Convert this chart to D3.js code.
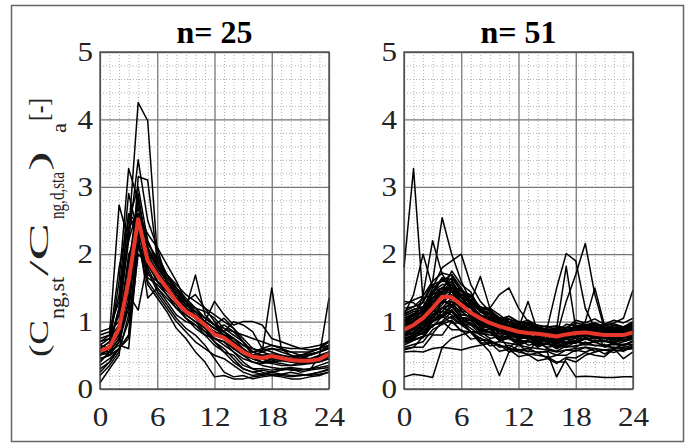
<!DOCTYPE html>
<html>
<head>
<meta charset="utf-8">
<script src="https://cdn.jsdelivr.net/npm/d3@7"></script>
<style>
  body { margin: 0; background: #fff; }
  svg { display: block; }
  .domain { display: none; }
</style>
</head>
<body>
<div id="chart"></div>
<script>
// hours of the day (x values)
var hours = d3.range(0, 25);
var xTicks = [0, 6, 12, 18, 24];
var yTicks = [0, 1, 2, 3, 4, 5];
var titles = ["n= 25", "n= 51"];
var serif = "'Liberation Serif', 'Times New Roman', serif";

// panel 1 : 25 single profiles
var left_lines = [
  [0.60,0.70,1.20,2.30,4.25,3.98,2.00,1.70,1.50,1.30,1.10,1.00,0.90,0.80,0.70,0.55,0.45,0.40,0.42,0.45,0.40,0.38,0.40,0.45,0.55],
  [0.50,0.65,1.60,3.27,2.80,2.10,1.80,1.60,1.40,1.20,1.10,0.95,0.85,0.75,0.60,0.50,0.40,0.38,0.40,0.38,0.35,0.36,0.38,0.40,0.45],
  [0.70,0.80,2.73,2.20,3.40,2.50,2.10,1.85,1.60,1.30,1.20,1.05,0.95,0.85,0.70,0.60,0.50,0.50,0.52,0.50,0.48,0.50,0.52,0.55,0.62],
  [0.45,0.50,0.70,1.20,3.15,3.10,1.90,1.70,1.45,1.25,1.15,1.00,0.90,0.95,0.85,0.70,0.50,0.45,0.48,0.45,0.42,0.40,0.42,0.45,0.50],
  [0.30,0.40,0.60,0.80,2.40,1.80,1.50,1.35,1.20,1.10,1.00,0.90,0.70,0.60,0.45,0.30,0.25,0.22,0.25,0.28,0.30,0.28,0.30,0.32,0.35],
  [0.85,0.90,1.30,2.60,2.20,1.70,1.60,1.50,1.35,1.20,1.10,1.00,0.90,0.85,0.75,0.65,0.60,0.55,0.60,0.58,0.55,0.55,0.55,0.60,0.70],
  [0.09,0.30,0.50,1.80,2.90,2.00,1.75,1.55,1.30,1.15,1.05,0.90,0.75,0.70,0.55,0.40,0.30,0.25,0.20,0.18,0.15,0.15,0.18,0.20,0.25],
  [0.55,0.60,0.85,1.40,1.17,1.90,1.75,1.55,1.35,1.20,1.69,1.10,0.95,0.80,0.70,0.60,0.45,0.40,0.45,0.42,0.40,0.38,0.40,0.42,0.48],
  [0.60,0.55,0.75,1.50,2.60,2.30,2.10,1.60,1.40,1.25,1.20,1.15,1.05,0.90,0.80,0.70,0.55,0.50,0.50,0.48,0.45,0.45,0.50,0.55,0.60],
  [0.40,0.55,0.90,2.00,2.30,1.35,1.50,1.30,1.10,1.00,0.95,0.85,0.70,0.55,0.40,0.30,0.25,0.28,0.25,0.22,0.20,0.20,0.22,0.25,0.28],
  [0.65,0.75,1.10,2.20,2.70,1.90,1.60,1.45,1.30,1.20,1.05,0.95,0.85,0.80,0.75,0.60,0.50,0.55,1.50,0.60,0.50,0.45,0.45,0.50,0.55],
  [0.50,0.55,0.65,0.60,2.10,2.00,1.85,1.70,1.50,1.35,1.20,1.05,0.95,0.90,0.85,0.80,0.75,0.70,0.65,0.62,0.60,0.60,0.62,0.65,0.70],
  [0.20,0.35,0.55,1.10,2.50,1.60,1.40,1.20,1.00,0.85,0.70,0.60,0.50,0.45,0.35,0.25,0.20,0.22,0.25,0.28,0.30,0.25,0.28,0.50,1.35],
  [0.75,0.80,1.40,2.90,2.30,1.95,1.70,1.50,1.30,1.10,1.00,0.85,0.75,0.70,0.60,0.55,0.50,0.48,0.45,0.48,0.45,0.42,0.40,0.42,0.45],
  [0.55,0.65,0.80,1.70,2.80,2.10,1.85,1.60,1.40,1.25,1.15,1.05,0.95,0.85,1.00,0.95,0.85,0.60,0.55,0.50,0.45,0.48,0.50,0.55,0.60],
  [0.35,0.45,0.60,0.75,2.20,1.65,1.55,1.40,1.25,1.05,0.95,0.80,0.65,0.55,0.50,0.35,0.30,0.30,0.28,0.30,0.32,0.30,0.28,0.30,0.32],
  [0.80,0.85,1.00,2.40,2.60,2.20,1.90,1.70,1.55,1.40,1.30,1.20,1.10,1.00,0.90,0.70,0.55,0.60,0.65,0.60,0.55,0.50,0.52,0.55,0.65],
  [0.45,0.50,0.70,1.30,2.35,1.75,1.45,1.25,1.05,0.90,0.80,0.65,0.45,0.25,0.18,0.20,0.15,0.18,0.20,0.22,0.25,0.22,0.20,0.22,0.25],
  [0.60,0.70,1.80,2.50,3.00,2.20,1.85,1.65,1.45,1.25,1.10,1.00,1.30,1.10,0.95,1.00,1.00,0.95,0.75,0.70,0.65,0.60,0.58,0.60,0.65],
  [0.25,0.40,0.60,1.00,2.15,1.55,1.35,1.15,0.90,0.75,0.55,0.40,0.18,0.20,0.15,0.15,0.18,0.20,0.22,0.20,0.18,0.20,0.22,0.25,0.30],
  [0.70,0.75,0.95,1.90,2.60,1.85,1.60,1.45,1.30,1.15,1.05,0.90,0.80,0.75,0.60,0.50,0.45,0.45,0.40,0.42,0.45,0.50,0.55,0.60,0.72],
  [0.50,0.60,1.20,2.60,2.45,2.05,1.80,1.60,1.45,1.30,1.40,1.20,1.00,0.85,0.70,0.55,0.45,0.40,0.38,0.35,0.35,0.38,0.40,0.45,0.50],
  [0.65,0.60,0.80,1.50,2.30,1.95,1.70,1.55,1.35,1.20,1.10,1.00,0.90,0.85,0.75,0.65,0.55,0.58,0.60,0.55,0.50,0.48,0.45,0.48,0.55],
  [0.55,0.50,0.60,0.80,2.00,1.85,1.60,1.40,1.20,1.05,0.90,0.80,0.75,0.65,0.55,0.45,0.40,0.35,0.32,0.30,0.28,0.28,0.30,0.35,0.40],
  [0.40,0.55,0.75,1.30,2.55,2.15,1.95,1.70,1.50,1.30,1.15,1.05,0.95,1.05,0.90,0.75,0.60,0.55,0.50,0.45,0.42,0.40,0.42,0.45,0.50]
];
var left_mean = [0.56,0.62,0.90,1.60,2.52,1.90,1.69,1.50,1.30,1.15,1.07,0.95,0.81,0.76,0.65,0.55,0.48,0.46,0.49,0.46,0.43,0.42,0.42,0.44,0.52];

// panel 2 : 51 single profiles
var right_lines = [
  [1.80,3.27,1.30,1.10,1.20,1.15,1.05,0.95,0.90,0.85,0.82,0.80,0.78,0.75,0.72,0.70,0.72,0.75,0.78,0.80,0.78,0.76,0.75,0.76,0.80],
  [1.00,1.10,1.30,1.60,2.54,2.00,1.60,1.30,1.15,1.05,1.00,0.95,0.90,0.88,0.85,0.82,0.80,0.85,0.88,0.90,0.88,0.85,0.85,0.86,0.90],
  [0.90,1.00,1.40,2.20,1.70,1.50,1.35,1.20,1.10,1.00,0.95,0.90,0.88,0.85,0.82,0.80,0.78,0.80,0.82,0.85,0.82,0.80,0.78,0.80,0.82],
  [0.18,0.22,0.20,0.17,0.62,0.75,0.80,0.85,0.82,0.80,0.78,0.75,0.72,0.70,0.68,0.66,0.65,0.62,0.64,0.66,0.65,0.63,0.62,0.60,0.62],
  [0.55,0.56,0.55,0.60,0.62,0.60,0.58,0.62,0.65,0.68,0.70,0.68,0.65,0.62,0.60,0.58,0.55,0.58,0.60,0.62,0.60,0.58,0.57,0.58,0.60],
  [0.80,0.85,0.95,1.10,1.20,1.15,1.00,0.85,0.70,0.55,0.20,0.55,0.65,0.70,0.72,0.70,0.68,0.70,0.72,0.74,0.72,0.70,0.70,0.72,0.75],
  [0.95,1.00,1.10,1.25,1.40,1.35,1.25,1.15,1.05,1.00,0.95,0.92,0.90,0.88,0.86,0.90,1.50,2.01,1.90,1.20,0.90,0.85,0.84,0.86,0.90],
  [0.85,0.90,1.00,1.15,1.30,1.30,1.20,1.10,1.00,0.95,0.90,0.88,0.85,0.82,0.80,0.78,0.80,1.30,1.70,2.16,1.40,0.90,0.88,0.88,0.92],
  [0.75,0.80,0.90,1.05,1.20,1.25,1.15,1.05,0.95,0.90,0.85,0.82,0.80,0.78,0.76,0.75,0.90,1.82,0.90,0.85,0.82,0.80,0.78,0.80,0.82],
  [1.05,1.10,1.20,1.35,1.50,1.45,1.35,1.20,1.10,1.05,1.00,0.95,0.92,0.90,0.88,0.85,0.85,0.88,0.90,1.00,1.50,0.95,0.90,0.90,0.95],
  [0.90,0.95,1.05,1.20,1.35,1.40,1.30,1.20,1.10,1.02,0.98,0.95,0.92,0.90,0.88,0.85,0.85,0.88,0.92,0.95,0.95,0.95,0.98,1.05,1.47],
  [0.70,0.75,0.85,1.00,1.10,1.05,0.95,0.85,0.75,0.70,0.65,0.60,0.55,0.52,0.50,0.48,0.40,0.40,0.18,0.19,0.18,0.17,0.17,0.18,0.18],
  [0.75,0.80,0.90,1.00,1.15,1.10,1.00,0.90,0.80,0.72,0.65,0.60,0.58,0.56,0.55,0.55,0.18,0.45,0.40,0.50,0.55,0.58,0.60,0.62,0.65],
  [1.00,1.05,1.15,1.30,1.45,1.50,1.40,1.30,1.67,1.20,1.10,1.00,0.95,0.90,0.88,0.85,0.82,0.85,0.88,0.90,0.88,0.86,0.85,0.86,0.88],
  [0.95,1.00,1.10,1.25,1.45,1.55,1.45,1.30,1.20,1.20,1.40,1.50,1.20,1.00,0.92,0.88,0.85,0.88,0.90,0.92,0.90,0.88,0.86,0.88,0.90],
  [0.85,0.90,1.00,1.15,1.30,1.25,1.15,1.05,0.98,0.92,0.88,0.85,0.90,1.30,0.85,0.82,0.80,0.82,0.85,0.86,0.84,0.82,0.80,0.82,0.85],
  [0.90,1.00,1.20,1.50,1.80,1.90,2.00,1.55,1.30,1.15,1.05,1.00,0.95,0.90,0.88,0.86,0.84,0.86,0.88,0.90,0.88,0.86,0.85,0.86,0.88],
  [1.10,1.40,2.00,1.50,1.60,1.70,1.50,1.30,1.15,1.05,1.00,0.95,0.92,0.90,0.88,0.86,0.84,0.86,0.88,0.90,0.88,0.86,0.85,0.86,0.88],
  [0.70,0.78,0.82,1.05,1.10,1.25,1.05,1.02,0.88,0.95,0.72,0.80,0.74,0.76,0.68,0.72,0.64,0.70,0.68,0.75,0.69,0.72,0.66,0.70,0.74],
  [1.20,1.22,1.35,1.40,1.65,1.50,1.48,1.25,1.22,1.05,1.02,1.00,0.96,0.98,0.90,0.94,0.86,0.96,0.94,0.95,0.98,0.93,0.97,0.92,1.00],
  [0.65,0.72,0.78,0.95,0.98,1.08,0.96,0.95,0.82,0.84,0.72,0.76,0.66,0.72,0.62,0.68,0.60,0.66,0.70,0.66,0.70,0.64,0.68,0.64,0.72],
  [0.95,1.05,1.08,1.35,1.45,1.50,1.25,1.20,1.00,1.02,0.92,0.88,0.86,0.82,0.82,0.78,0.80,0.78,0.86,0.82,0.86,0.80,0.84,0.80,0.85],
  [0.80,0.82,1.00,1.05,1.30,1.25,1.30,1.05,1.05,0.88,0.92,0.80,0.86,0.76,0.90,0.70,0.75,0.74,0.82,0.78,0.84,0.75,0.80,0.76,0.82],
  [1.10,1.18,1.22,1.45,1.50,1.65,1.45,1.40,1.20,1.18,1.02,1.08,0.98,1.02,0.94,0.92,0.94,0.90,1.02,0.98,1.04,0.96,1.02,0.98,1.05],
  [0.60,0.62,0.78,0.82,1.00,0.88,0.88,0.74,0.76,0.64,0.66,0.55,0.58,0.50,0.54,0.46,0.50,0.50,0.58,0.55,0.60,0.52,0.58,0.56,0.64],
  [0.88,0.95,0.98,1.20,1.30,1.45,1.25,1.22,1.04,1.04,0.90,0.94,0.88,0.84,0.84,0.80,0.82,0.78,0.86,0.84,0.86,0.82,0.86,0.82,0.86],
  [1.00,1.08,1.15,1.45,1.65,1.62,1.35,1.28,1.06,1.04,0.92,0.94,0.82,0.86,0.78,0.80,0.72,0.80,0.78,0.85,0.78,0.80,0.76,0.82,0.84],
  [0.75,0.76,0.88,0.92,1.08,0.98,0.98,0.85,0.85,0.75,0.78,0.60,0.75,0.65,0.68,0.62,0.64,0.62,0.70,0.68,0.70,0.64,0.66,0.64,0.70],
  [1.15,1.22,1.28,1.55,1.60,1.58,1.36,1.32,1.14,1.12,1.00,1.04,0.92,0.96,0.92,0.88,0.90,0.86,0.94,0.92,0.94,0.88,0.92,0.90,0.96],
  [0.85,0.92,1.02,1.30,1.40,1.38,1.16,1.12,0.96,0.98,0.86,0.88,0.78,0.82,0.72,0.75,0.68,0.76,0.76,0.82,0.76,0.78,0.72,0.78,0.78],
  [0.92,0.98,1.02,1.25,1.28,1.30,1.10,1.08,0.95,0.96,0.90,0.86,0.88,0.84,0.86,0.80,0.84,0.80,0.88,0.84,0.88,0.82,0.86,0.84,0.88],
  [0.70,0.74,0.78,1.00,1.06,1.18,1.02,0.98,0.85,0.85,0.75,0.78,0.70,0.72,0.66,0.68,0.60,0.68,0.68,0.74,0.85,0.62,0.68,0.66,0.70],
  [1.25,1.32,1.38,1.60,1.72,1.68,1.46,1.38,1.22,1.18,1.04,1.08,1.00,0.98,0.95,0.92,0.92,0.90,0.98,0.95,0.98,0.90,0.95,0.92,0.95],
  [0.80,0.90,0.98,1.25,1.36,1.55,1.36,1.28,1.08,1.05,0.92,0.93,0.82,0.85,0.78,0.80,0.74,0.80,0.78,0.84,0.78,0.80,0.76,0.82,0.82],
  [0.98,1.05,1.08,1.30,1.36,1.38,1.22,1.15,1.00,1.01,0.92,0.90,0.88,0.86,0.85,0.82,0.82,0.80,0.88,0.86,0.88,0.84,0.86,0.84,0.88],
  [0.62,0.66,0.70,0.88,0.96,1.02,0.86,0.85,0.72,0.73,0.62,0.65,0.58,0.60,0.54,0.56,0.50,0.58,0.56,0.62,0.56,0.58,0.54,0.60,0.60],
  [1.05,1.12,1.12,1.35,1.45,1.75,1.55,1.44,1.16,1.14,1.00,0.98,0.92,0.90,0.88,0.85,0.86,0.84,0.92,0.88,0.92,0.86,0.90,0.86,0.90],
  [0.90,0.95,0.98,1.15,1.20,1.25,1.06,1.05,0.92,0.94,0.82,0.85,0.76,0.80,0.72,0.76,0.70,0.78,0.76,0.82,0.76,0.78,0.74,0.80,0.80],
  [0.78,0.84,0.90,1.10,1.15,1.30,1.25,1.25,1.00,0.98,0.86,0.84,0.80,0.78,0.75,0.72,0.72,0.70,0.76,0.74,0.76,0.72,0.75,0.72,0.76],
  [1.30,1.28,1.16,1.35,1.40,1.45,1.26,1.24,1.08,1.08,0.96,1.00,0.90,0.95,0.86,0.90,0.84,0.92,0.90,0.96,0.90,0.92,0.86,0.92,0.92],
  [0.68,0.73,0.76,0.95,1.00,1.15,1.00,1.02,0.86,0.85,0.72,0.75,0.66,0.55,0.72,0.60,0.56,0.64,0.62,0.70,0.64,0.66,0.60,0.66,0.66],
  [0.95,1.02,1.12,1.40,1.50,1.50,1.30,1.26,1.06,1.05,0.96,0.94,0.90,0.86,0.85,0.82,0.82,0.80,0.88,0.86,0.88,0.84,0.86,0.82,0.86],
  [0.85,0.90,0.92,1.10,1.10,1.15,0.98,0.98,0.86,0.89,0.78,0.83,0.75,0.79,0.70,0.75,0.68,0.76,0.76,0.82,0.76,0.78,0.74,0.80,0.80],
  [1.12,1.18,1.22,1.45,1.55,1.55,1.36,1.32,1.14,1.13,1.03,1.00,0.95,0.92,0.90,0.86,0.88,0.84,0.92,0.88,0.92,0.86,0.90,0.88,0.94],
  [0.72,0.80,0.88,1.10,1.20,1.35,1.18,1.25,0.90,0.95,0.82,0.85,0.74,0.78,0.68,0.72,0.66,0.74,0.72,0.80,0.74,0.76,0.70,0.76,0.76],
  [0.90,0.98,0.96,1.15,1.15,1.30,1.10,1.08,0.94,0.95,0.86,0.84,0.82,0.78,0.78,0.74,0.76,0.74,0.84,0.80,0.84,0.78,0.82,0.80,0.84],
  [1.02,1.10,1.15,1.35,1.42,1.48,1.28,1.24,1.06,1.05,0.92,0.95,0.84,0.89,0.80,0.85,0.78,0.86,0.84,0.90,0.84,0.86,0.82,0.88,0.90],
  [0.82,0.88,0.90,1.10,1.25,1.45,1.40,1.38,1.16,1.10,0.98,0.94,0.90,0.84,0.82,0.78,0.78,0.76,0.84,0.80,0.84,0.78,0.82,0.80,0.82],
  [0.58,0.62,0.62,0.80,0.80,1.00,0.86,0.84,0.68,0.69,0.56,0.59,0.48,0.51,0.42,0.45,0.38,0.47,0.46,0.54,0.50,0.48,0.60,0.45,0.55],
  [1.08,1.15,1.18,1.40,1.45,1.60,1.40,1.36,1.18,1.17,1.06,1.04,0.98,0.94,0.92,0.88,0.90,0.86,0.94,0.92,0.96,0.90,0.94,0.92,0.98],
  [0.78,0.83,0.82,1.02,1.08,1.22,1.06,1.03,0.88,0.89,0.76,0.79,0.68,0.73,0.64,0.69,0.62,0.70,0.70,0.77,0.70,0.72,0.68,0.74,0.75]
];
var right_mean = [0.88,0.95,1.05,1.20,1.37,1.36,1.25,1.13,1.05,0.98,0.93,0.89,0.85,0.83,0.82,0.80,0.78,0.81,0.83,0.84,0.82,0.80,0.80,0.80,0.84];

// y label pieces: text, font size, start and end along the axis (px from its bottom end), baseline shift
var ylabel_parts = [
  ["(C", 27, 0, 37, 0],
  ["ng,st", 21, 38, 80, 16],
  ["/C", 27, 81, 134, 0],
  ["ng,d,sta", 21, 138, 185, 16],
  [")", 27, 186, 206, 0],
  ["a", 21, 224, 234, 18],
  ["[-]", 27, 236, 259, 0]
];

var width = 687, height = 443;
var panelTop = 52, panelBottom = 389, panelW = 229;
var panelLeft = [100, 404];

var svg = d3.select("#chart").append("svg")
    .attr("width", width)
    .attr("height", height)
    .style("font-family", serif);

// outer frame
svg.append("rect")
    .attr("x", 11.5).attr("y", 5.5)
    .attr("width", 672).attr("height", 436)
    .attr("fill", "none")
    .attr("stroke", "#666")
    .attr("stroke-width", 1.5);

var y = d3.scaleLinear().domain([0, 5]).range([panelBottom, panelTop]);

function drawPanel(i, lines, mean) {
    var x = d3.scaleLinear().domain([0, 24]).range([panelLeft[i], panelLeft[i] + panelW]);
    var g = svg.append("g");

    // minor grid (dotted)
    g.append("g")
        .attr("transform", "translate(0," + panelBottom + ")")
        .call(d3.axisBottom(x).tickValues(hours.filter(function(h) { return h % 6; }))
            .tickSize(-(panelBottom - panelTop)).tickFormat(""))
        .selectAll("line").attr("stroke", "#b0b0b0").attr("stroke-dasharray", "1,2");
    g.append("g")
        .attr("transform", "translate(" + panelLeft[i] + ",0)")
        .call(d3.axisLeft(y).tickValues(d3.range(1, 25).filter(function(k) { return k % 5; }).map(function(k) { return k * 0.2; }))
            .tickSize(-panelW).tickFormat(""))
        .selectAll("line").attr("stroke", "#b0b0b0").attr("stroke-dasharray", "1,2");

    // major grid + tick labels
    var xa = g.append("g")
        .attr("transform", "translate(0," + panelBottom + ")")
        .call(d3.axisBottom(x).tickValues(xTicks).tickSize(-(panelBottom - panelTop)).tickPadding(18).tickFormat(d3.format("d")));
    xa.attr("font-family", serif).attr("font-size", 27);
    xa.selectAll("line").attr("stroke", "#777").attr("stroke-width", 1.3);
    xa.selectAll("text").attr("fill", "#222").attr("transform", "scale(1.15,1)");

    var ya = g.append("g")
        .attr("transform", "translate(" + panelLeft[i] + ",0)")
        .call(d3.axisLeft(y).tickValues(yTicks).tickSize(-panelW).tickPadding(7).tickFormat(d3.format("d")));
    ya.attr("font-family", serif).attr("font-size", 27);
    ya.selectAll("line").attr("stroke", "#777").attr("stroke-width", 1.3);
    ya.selectAll("text").attr("fill", "#222").attr("x", -7 / 1.15).attr("transform", "scale(1.15,1)");

    var line = d3.line()
        .x(function(d, k) { return x(hours[k]); })
        .y(function(d) { return y(d); });

    g.append("g").selectAll("path")
        .data(lines).enter().append("path")
        .attr("d", line)
        .attr("fill", "none")
        .attr("stroke", "#000")
        .attr("stroke-width", 1.5)
        .attr("stroke-linejoin", "round");

    g.append("path")
        .datum(mean)
        .attr("d", line)
        .attr("fill", "none")
        .attr("stroke", "#e8362b")
        .attr("stroke-width", 4)
        .attr("stroke-linejoin", "round");

    // axes box
    g.append("rect")
        .attr("x", panelLeft[i]).attr("y", panelTop)
        .attr("width", panelW).attr("height", panelBottom - panelTop)
        .attr("fill", "none")
        .attr("stroke", "#444")
        .attr("stroke-width", 1.3);

    svg.append("text")
        .text(titles[i])
        .attr("x", panelLeft[i] + panelW / 2)
        .attr("y", 43)
        .attr("text-anchor", "middle")
        .attr("font-weight", "bold")
        .attr("font-size", 32)
        .attr("fill", "#000");
}

drawPanel(0, left_lines, left_mean);
drawPanel(1, right_lines, right_mean);

// y axis label (rotated, each piece stretched to its measured length)
var ylab = svg.append("g")
    .attr("transform", "translate(48,357) rotate(-90)");
ylab.selectAll("text")
    .data(ylabel_parts).enter().append("text")
    .text(function(d) { return d[0]; })
    .attr("font-size", function(d) { return d[1]; })
    .attr("x", function(d) { return d[2]; })
    .attr("y", function(d) { return d[4]; })
    .attr("textLength", function(d) { return d[3] - d[2]; })
    .attr("lengthAdjust", "spacingAndGlyphs")
    .attr("fill", "#222");
</script>
</body>
</html>
